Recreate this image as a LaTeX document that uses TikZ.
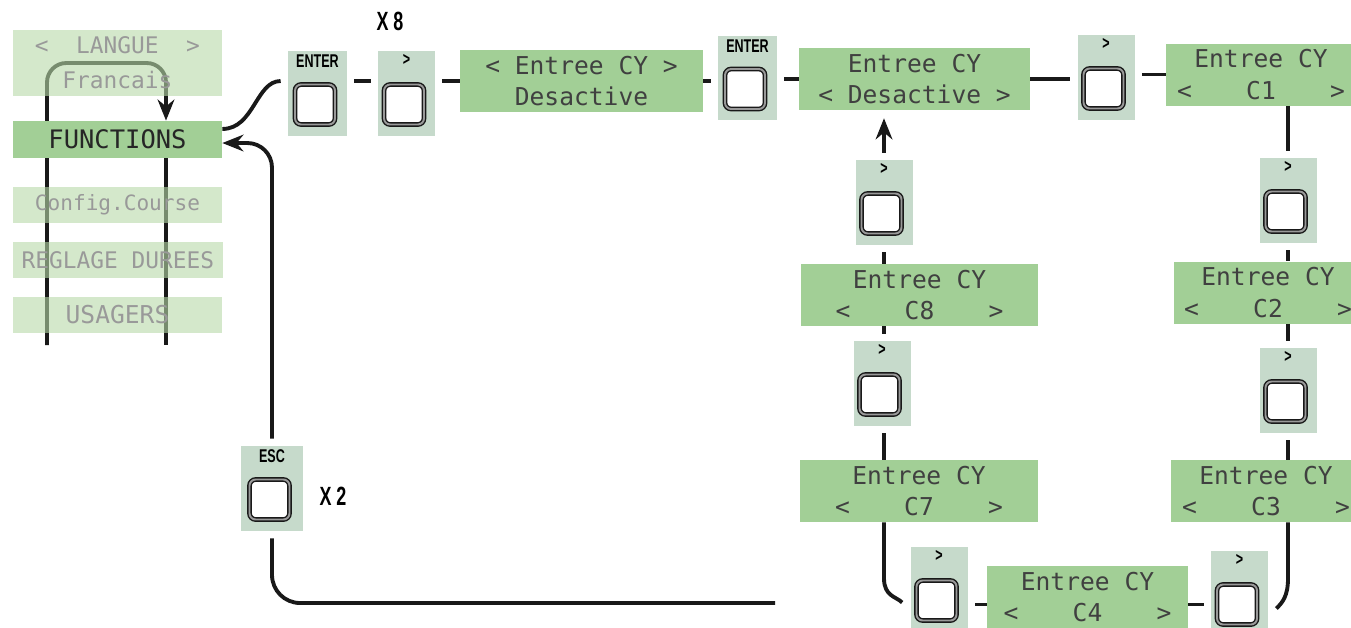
\documentclass[tikz,border=0pt]{standalone}
\usepackage{fontspec}
\usetikzlibrary{arrows.meta,backgrounds}
\newfontfamily\lcdfont{DejaVu Sans Mono}
\newfontfamily\keyfont[FakeStretch=0.68,BoldFont={Liberation Sans Bold}]{Liberation Sans}
\definecolor{lcdgreen}{HTML}{A2CF96}
\definecolor{menugreen}{HTML}{B7D9A8}
\definecolor{keygrey}{HTML}{C6DACB}
\newcommand\lcdrow[1]{\makebox[3.36cm]{<\hfill#1\hfill>}}

\begin{document}
\begin{tikzpicture}[
    x=0.02cm, y=-0.02cm,
    link/.style={line width=2.2pt, black!90},
    tip/.style={-{Stealth[length=12pt,width=9.5pt]}},
    fromkey/.style={shorten <=4pt},
    tokey/.style={shorten >=4pt},
    lcd/.style={fill=lcdgreen, minimum height=1.24cm, inner sep=0pt,
      align=center, text=black!75,
      font=\lcdfont\fontsize{14}{18}\selectfont},
    menu/.style={fill=menugreen, fill opacity=.6, text opacity=1,
      minimum width=4.18cm, minimum height=0.72cm, inner sep=0pt,
      align=center, text=black!40,
      font=\lcdfont\fontsize{13}{20}\selectfont},
    keylbl/.style={anchor=north, yshift=-1pt, inner sep=1pt,
      font=\keyfont\bfseries\fontsize{10.5}{10.5}\selectfont},
    keypad/.style={fill=keygrey, minimum width=1.14cm,
      minimum height=1.7cm, inner sep=0pt, label={[keylbl]north:#1}},
    keybtn/.style={rounded corners=3.5pt, draw=black!90, line width=0.8pt,
      double=black!40, double distance=1.1pt, fill=white,
      minimum size=0.8cm, inner sep=0pt},
    xcount/.style={font=\keyfont\bfseries\fontsize{15}{15}\selectfont}
  ]
  \useasboundingbox (0,0) rectangle (1351,627);
  \clip (0,0) rectangle (1351,627);

  % menu list
  \node[menu, minimum height=1.32cm] (langue) at (117.5,63) {<~~LANGUE~~>\\Francais};
  \node[menu, fill=lcdgreen, fill opacity=1, text=black!85, minimum height=0.74cm,
    font=\lcdfont\fontsize{14.5}{16}\selectfont] (functions) at (117.5,139.5) {FUNCTIONS};
  \node[menu, font=\lcdfont\fontsize{12}{14}\selectfont] (config) at (117.5,205) {Config.Course};
  \node[menu, minimum width=4.2cm] (reglage) at (118,260) {REGLAGE DUREES};
  \node[menu, font=\lcdfont\fontsize{14}{16}\selectfont] (usagers) at (117.5,315) {USAGERS};

  \coordinate (scrollL) at (47,345);
  \coordinate (scrollR) at (166,345);
  \begin{scope}[on background layer]
    \draw[link, tip, rounded corners=11pt] (scrollL) |- (langue -| scrollR)
      -- (functions.north -| scrollR);
    \draw[link] (functions.south -| scrollR) -- (scrollR);
  \end{scope}

  % displays
  \node[lcd, minimum width=4.86cm] (dispA) at (581.5,81) {< Entree CY >\\Desactive};
  \node[lcd, minimum width=4.62cm] (dispB) at (914.5,79) {Entree CY\\< Desactive >};
  \node[lcd, minimum width=3.8cm] (dispC1) at (1261,74.5) {Entree CY\\\lcdrow{C1}};
  \node[lcd, minimum width=3.76cm] (dispC2) at (1268,292.5) {Entree CY\\\lcdrow{C2}};
  \node[lcd, minimum width=3.8cm] (dispC3) at (1266,491) {Entree CY\\\lcdrow{C3}};
  \node[lcd, minimum width=4.02cm] (dispC4) at (1087.5,597) {Entree CY\\\lcdrow{C4}};
  \node[lcd, minimum width=4.76cm] (dispC7) at (919,491) {Entree CY\\\lcdrow{C7}};
  \node[lcd, minimum width=4.74cm] (dispC8) at (919.5,295) {Entree CY\\\lcdrow{C8}};

  % keys
  \node[keypad=ENTER, minimum width=1.18cm] (enterA) at (317.5,93.5) {};
  \node[keypad=>] (nextA) at (406.5,93.5) {};
  \node[keypad=ENTER, minimum width=1.18cm, minimum height=1.68cm] (enterB) at (747.5,78) {};
  \node[keypad=>] (nextB) at (1106,77.5) {};
  \node[keypad=>] (nextC) at (1288,200.5) {};
  \node[keypad=>] (nextD) at (1288,390.5) {};
  \node[keypad=>] (nextE) at (1239.5,593.5) {};
  \node[keypad=>] (nextF) at (939,589.5) {};
  \node[keypad=>] (nextG) at (882,383.5) {};
  \node[keypad=>] (nextH) at (884,202.5) {};
  \node[keypad=ESC, minimum width=1.24cm] (esc) at (272,488.5) {};
  \foreach \k in {enterA,nextA,enterB,nextB,nextC,nextD,nextE,nextF,nextG,nextH,esc}
    \node[keybtn] (b\k) at ([shift={(-2.5,11)}]\k.center) {};

  \node[xcount] (x8) at (390,21) {X 8};
  \node[xcount] (x2) at (333,496) {X 2};

  % top row
  \draw[link, tokey] ([yshift=6pt]functions.east) to[out=0,in=180] (enterA.west |- dispA);
  \draw[link, fromkey, tokey] (enterA.east |- dispA) -- (nextA.west |- dispA);
  \draw[link, fromkey] (nextA.east |- dispA) -- (dispA.west);
  \draw[link, tokey] (dispA.east) -- (enterB.west |- dispA);
  \draw[link, fromkey] (enterB.east |- dispB) -- (dispB.west);
  \draw[link, tokey] (dispB.east) -- (nextB.west |- dispB);
  \draw[link, fromkey] (nextB.east |- dispC1) -- (dispC1.west);

  % right column
  \draw[link, tokey] (nextC |- dispC1.south) -- (nextC.north);
  \draw[link, fromkey] (nextC.south) -- (nextC |- dispC2.north);
  \draw[link, tokey] (nextD |- dispC2.south) -- (nextD.north);
  \draw[link, fromkey] (nextD.south) -- (nextD |- dispC3.north);
  \draw[link] (nextD |- dispC3.south) -- ++(0,56)
    .. controls +(0,18) and +(6,-6) .. ([shift={(8,15)}]nextE.east);

  % bottom row
  \draw[link, fromkey] (nextE.west |- bnextE) -- (dispC4.east |- bnextE);
  \draw[link, tokey] (dispC4.west |- bnextE) -- (nextF.east |- bnextE);

  % left column
  \draw[link] (nextH |- dispC7.south) -- ++(0,56)
    .. controls +(0,18) and +(-6,-6) .. ([shift={(-8,13)}]nextF.west);
  \draw[link, tokey] (nextH |- dispC7.north) -- (nextH |- nextG.south);
  \draw[link, fromkey] (nextH |- nextG.north) -- (nextH |- dispC8.south);
  \draw[link, tokey] (nextH |- dispC8.north) -- (nextH.south);
  \draw[link, tip, fromkey, shorten >=4.5pt] (nextH.north) -- (nextH |- dispB.south);

  % way back
  \coordinate (back) at (775,603);
  \draw[link, tokey, rounded corners=16pt] (back) -| (esc.south);
  \draw[link, tip, fromkey, rounded corners=14pt] (esc.north) |- ([yshift=-2pt]functions.east);
\end{tikzpicture}
\end{document}
